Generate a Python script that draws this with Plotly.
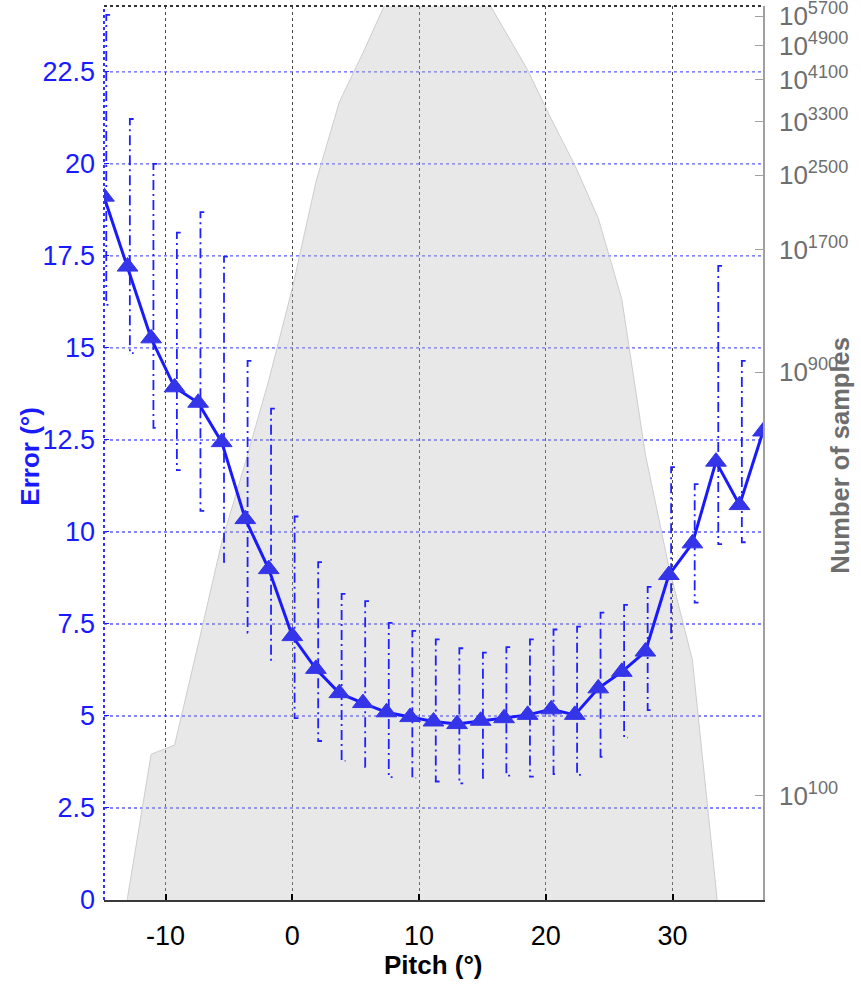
import plotly.graph_objects as go

# ---------------- data ----------------
pitch = [-14.86, -13.00, -11.14, -9.29, -7.43, -5.57, -3.71, -1.86, 0.00, 1.86,
         3.71, 5.57, 7.43, 9.29, 11.14, 13.00, 14.86, 16.71, 18.57, 20.43,
         22.29, 24.14, 26.00, 27.86, 29.71, 31.57, 33.43, 35.29, 37.14]

error_mean = [19.11, 17.21, 15.26, 13.93, 13.51, 12.44, 10.35, 8.99, 7.17, 6.28,
              5.62, 5.35, 5.10, 4.97, 4.85, 4.78, 4.87, 4.94, 5.03, 5.18,
              5.03, 5.75, 6.20, 6.75, 8.83, 9.69, 11.91, 10.73, 12.73]

error_upper = [24.05, 21.22, 20.00, 18.13, 18.69, 17.48, 14.65, 13.35, 10.42, 9.18,
               8.32, 8.12, 7.53, 7.31, 7.08, 6.84, 6.72, 6.87, 7.08, 7.35,
               7.43, 7.81, 8.02, 8.51, 11.76, 11.30, 17.23, 14.65, 15.50]

error_lower = [16.17, 14.86, 12.83, 11.68, 10.57, 9.19, 7.26, 6.49, 4.94, 4.32,
               3.78, 3.61, 3.34, 3.32, 3.22, 3.17, 3.32, 3.38, 3.35, 3.42,
               3.40, 3.89, 4.41, 5.16, 7.11, 8.08, 9.67, 9.72, 9.90]

samples = [20, 59, 124, 130, 219, 372, 563, 862, 1390, 2411,
           3653, 4712, 6171, 7600, 8200, 7800, 6570, 5309, 4313, 3344,
           2633, 2000, 1313, 587, 328, 202, 62, 15, 10]

x_ticks = [-10, 0, 10, 20, 30]
x_tick_text = ["-10", "0", "10", "20", "30"]
err_ticks = [0, 2.5, 5, 7.5, 10, 12.5, 15, 17.5, 20, 22.5]
err_tick_text = ["0", "2.5", "5", "7.5", "10", "12.5", "15", "17.5", "20", "22.5"]
sample_ticks = [100, 900, 1700, 2500, 3300, 4100, 4900, 5700]
sample_tick_text = ["10<sup>%d</sup>" % v for v in sample_ticks]

# ---------------- styling ----------------
FONT = "Liberation Sans, Arial, Helvetica, sans-serif"
BLUE = "#1a1aff"
MARK = "#3434e8"
GRAY = "#6e6e6e"

fig = go.Figure()

# histogram of samples (right log axis, main y)
area_x = pitch + [pitch[-1], pitch[0]]
area_y = samples + [1, 1]
fig.add_trace(go.Scatter(
    x=area_x, y=area_y, yaxis="y", fill="toself",
    fillcolor="rgba(185,185,185,0.32)",
    line=dict(color="#cdcdcd", width=1), mode="lines",
    hoverinfo="skip", showlegend=False))

# error bars (bracket-like, dash-dot)
bar_off = 0.18
cap = 0.30
ex, ey = [], []
for xv, lo, hi in zip(pitch, error_lower, error_upper):
    xb = xv + bar_off
    ex += [xb + cap, xb, xb, xb + cap, None]
    ey += [hi, hi, lo, lo, None]
fig.add_trace(go.Scatter(
    x=ex, y=ey, yaxis="y2", mode="lines",
    line=dict(color="#2020ff", width=1.8, dash="10px,4px,2px,4px"),
    hoverinfo="skip", showlegend=False))

# mean error line with triangles
fig.add_trace(go.Scatter(
    x=pitch, y=error_mean, yaxis="y2", mode="lines+markers",
    line=dict(color=BLUE, width=3),
    marker=dict(symbol="triangle-up", size=18, color=MARK,
                line=dict(color=MARK, width=1)),
    showlegend=False))

# blue dotted horizontal grid of the error axis
grid_shapes = [
    dict(type="line", xref="paper", yref="y2", x0=0, x1=1, y0=t, y1=t,
         layer="below", line=dict(color="#5c5cff", width=1.4, dash="dot"))
    for t in err_ticks[1:]
]

fig.update_layout(
    width=861, height=984,
    margin=dict(l=104, r=98, t=6, b=84),
    paper_bgcolor="white", plot_bgcolor="white",
    font=dict(family=FONT, size=26, color="black"),
    xaxis=dict(
        range=[pitch[0], pitch[-1]], tickvals=x_ticks, ticktext=x_tick_text,
        automargin=False,
        showgrid=True, gridcolor="#4a4a4a", griddash="dot", gridwidth=1.3,
        zeroline=False, showline=True, linecolor="#3a3a3a", linewidth=1.5,
        ticks="inside", ticklen=6, tickwidth=1.5, tickcolor="black",
        tickfont=dict(size=27, color="black"), ticklabelstandoff=11),
    yaxis=dict(
        type="log", side="right",
        range=[1.765, 3.779], automargin=False,
        tickvals=sample_ticks, ticktext=sample_tick_text,
        showgrid=False, zeroline=False,
        showline=True, linecolor="#a0a0a0", linewidth=1.5,
        ticks="inside", ticklen=8, tickcolor="#a0a0a0",
        ticklabeloverflow="allow",
        tickfont=dict(size=26, color=GRAY), ticklabelstandoff=9),
    yaxis2=dict(
        overlaying="y", side="left", automargin=False,
        range=[0, 24.29], tickvals=err_ticks, ticktext=err_tick_text,
        showgrid=False,
        zeroline=False, showline=False,
        ticks="inside", ticklen=5, tickcolor=BLUE,
        tickfont=dict(size=27, color=BLUE), ticklabelstandoff=8),
    shapes=grid_shapes + [
        dict(type="line", xref="paper", yref="paper", x0=0, x1=1, y0=1, y1=1,
             line=dict(color="#333333", width=2, dash="dot")),
        dict(type="line", xref="paper", yref="paper", x0=0, x1=0, y0=0, y1=1,
             line=dict(color="#3030ff", width=2, dash="dot")),
    ],
    annotations=[
        dict(text="<b>Pitch (°)</b>", xref="paper", yref="paper",
             x=0.5, y=-0.0727, xanchor="center", yanchor="middle",
             showarrow=False, font=dict(size=26, color="black", family=FONT)),
        dict(text="<b>Error (°)</b>", xref="paper", yref="paper",
             x=-0.1123, y=0.497, xanchor="center", yanchor="middle", textangle=-90,
             showarrow=False, font=dict(size=26, color=BLUE, family=FONT)),
        dict(text="<b>Number of samples</b>", xref="paper", yref="paper",
             x=1.1168, y=0.498, xanchor="center", yanchor="middle", textangle=-90,
             showarrow=False, font=dict(size=25.5, color=GRAY, family=FONT)),
    ],
)

fig.write_html("out.html")
